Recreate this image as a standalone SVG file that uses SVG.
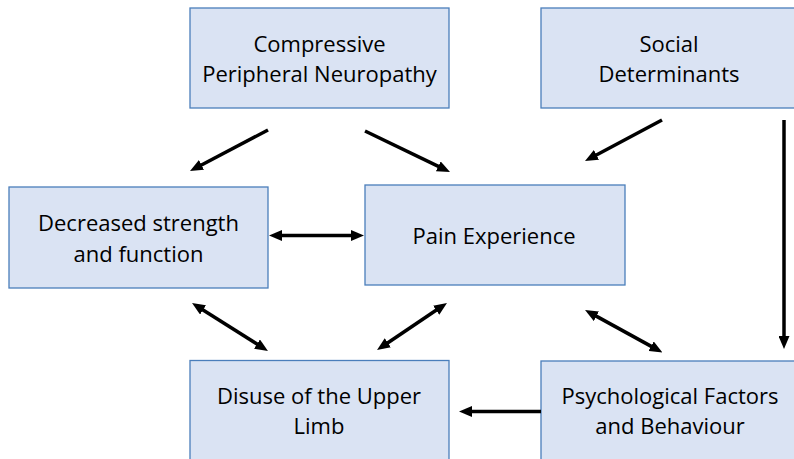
<svg xmlns="http://www.w3.org/2000/svg" width="794" height="459" viewBox="0 0 794 459">
<style>
.box{fill:#dae3f3;stroke:#4a7ebb;stroke-width:1.3}
.lbl{font-family:"Open Sans","Liberation Sans",sans-serif;font-size:22px;fill:#000;text-anchor:middle}
.c{stroke:#000;stroke-width:3.5;fill:none}
</style>
<defs>
<marker id="ah" viewBox="0 0 13 11" refX="7" refY="5.5" markerWidth="13" markerHeight="11" markerUnits="userSpaceOnUse" orient="auto-start-reverse">
<path d="M0,0 L13,5.5 L0,11 z" fill="#000"/>
</marker>
</defs>
<rect width="794" height="459" fill="#fff"/>
<g id="compressive">
<rect class="box" x="190" y="8" width="259" height="100"/>
<text class="lbl" x="319.5" y="52">Compressive</text>
<text class="lbl" x="319.5" y="82">Peripheral Neuropathy</text>
</g>
<g id="social">
<rect class="box" x="541" y="8" width="259" height="100"/>
<text class="lbl" x="669" y="52">Social</text>
<text class="lbl" x="669" y="82">Determinants</text>
</g>
<g id="decreased">
<rect class="box" x="9" y="187" width="259" height="101"/>
<text class="lbl" x="138.5" y="231">Decreased strength</text>
<text class="lbl" x="138.5" y="262">and function</text>
</g>
<g id="pain">
<rect class="box" x="365" y="185" width="260" height="100"/>
<text class="lbl" x="494" y="244">Pain Experience</text>
</g>
<g id="disuse">
<rect class="box" x="190" y="360.5" width="259" height="105"/>
<text class="lbl" x="319" y="403.5">Disuse of the Upper</text>
<text class="lbl" x="319" y="434">Limb</text>
</g>
<g id="psych">
<rect class="box" x="541" y="361" width="259" height="105"/>
<text class="lbl" x="670" y="403.5">Psychological Factors</text>
<text class="lbl" x="670" y="434">and Behaviour</text>
</g>
<g id="connectors">
<line class="c" x1="268" y1="130" x2="195.3" y2="168.2" marker-end="url(#ah)"/>
<line class="c" x1="365" y1="131" x2="444.6" y2="169.4" marker-end="url(#ah)"/>
<line class="c" x1="662" y1="120" x2="590.3" y2="158.2" marker-end="url(#ah)"/>
<line class="c" x1="784" y1="120" x2="784" y2="343" marker-end="url(#ah)"/>
<line class="c" x1="275" y1="235.5" x2="358" y2="235.5" marker-start="url(#ah)" marker-end="url(#ah)"/>
<line class="c" x1="197.1" y1="306.2" x2="262.9" y2="347.8" marker-start="url(#ah)" marker-end="url(#ah)"/>
<line class="c" x1="442" y1="306.3" x2="382" y2="346.7" marker-start="url(#ah)" marker-end="url(#ah)"/>
<line class="c" x1="590.3" y1="312.9" x2="657.2" y2="349.6" marker-start="url(#ah)" marker-end="url(#ah)"/>
<line class="c" x1="541" y1="411.5" x2="465" y2="411.5" marker-end="url(#ah)"/>
</g>
</svg>
